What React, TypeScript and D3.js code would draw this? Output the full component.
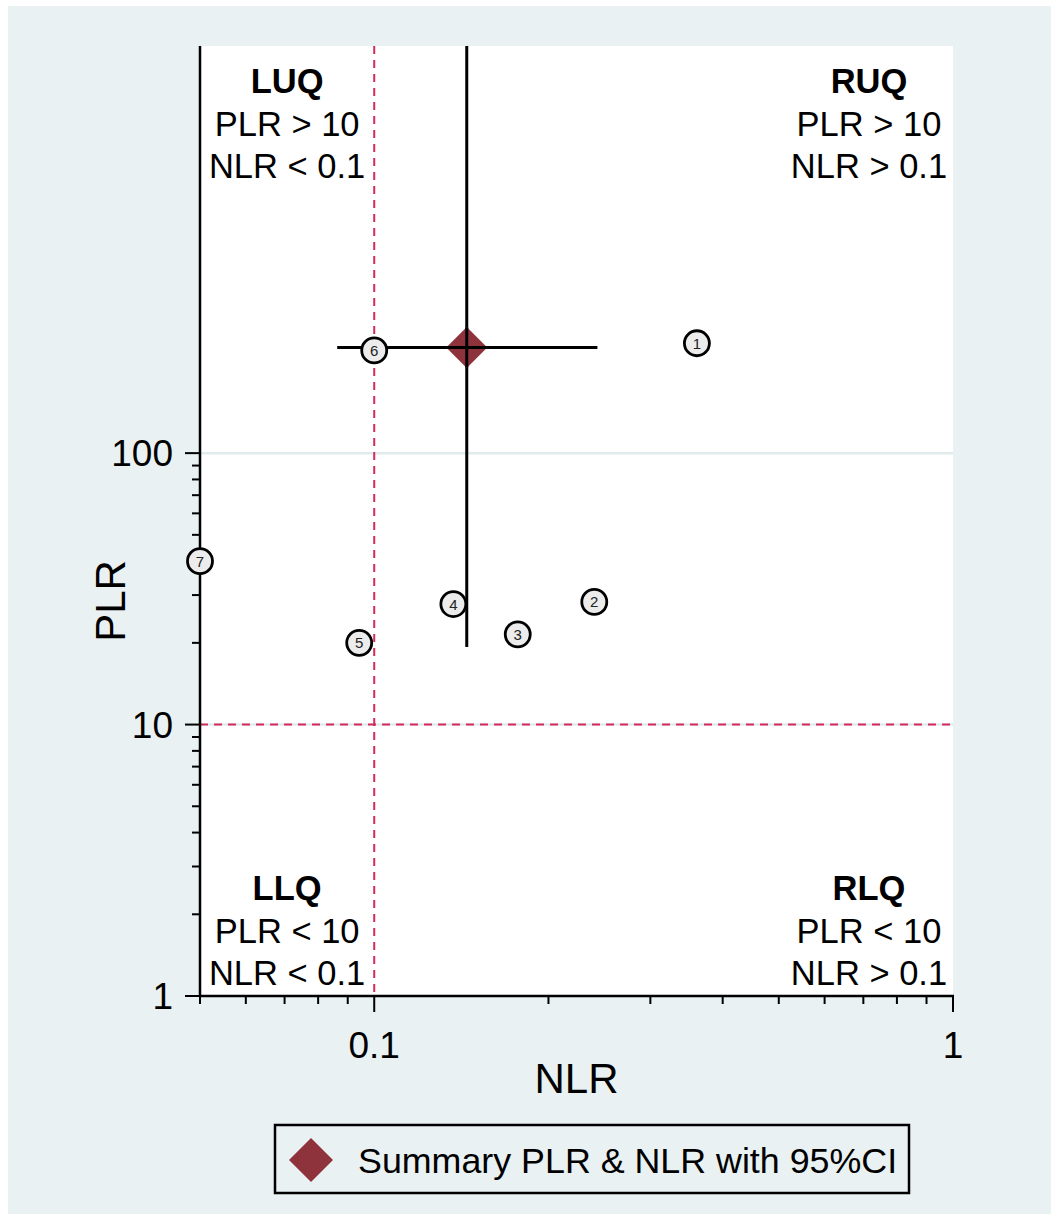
import React from "react";
import * as d3 from "d3";

const studyIds = ["1", "2", "3", "4", "5", "6", "7"];
const studyNLR = [0.361, 0.24, 0.177, 0.137, 0.0942, 0.1, 0.05];
const studyPLR = [254, 28.3, 21.5, 27.8, 20.0, 239, 40.0];

const summaryNLR = 0.1445;
const summaryPLR = 245;
const summaryNLRci = [0.0863, 0.243];
const summaryPLRci = [19.3, 5000];

const yMajorTicks = [1, 10, 100];
const yMinorTicks = [2, 3, 4, 5, 6, 7, 8, 9, 20, 30, 40, 50, 60, 70, 80, 90];
const xMajorTicks = [0.1, 1];
const xMinorTicks = [0.05, 0.06, 0.07, 0.08, 0.09, 0.2, 0.3, 0.4, 0.5, 0.6, 0.7, 0.8, 0.9];

const quadrantLabels = [
  { title: "LUQ", lines: ["PLR > 10", "NLR < 0.1"], pos: "ul" },
  { title: "RUQ", lines: ["PLR > 10", "NLR > 0.1"], pos: "ur" },
  { title: "LLQ", lines: ["PLR < 10", "NLR < 0.1"], pos: "ll" },
  { title: "RLQ", lines: ["PLR < 10", "NLR > 0.1"], pos: "lr" },
];

const legendLabel = "Summary PLR & NLR with 95%CI";

const BG = "#e9f1f3";
const GRID = "#e1ebee";
const RED = "#d42b5b";
const MAROON = "#8e333b";
const FONT = "'Liberation Sans', Arial, Helvetica, sans-serif";

export default function App() {
  const L = 200, R = 953, T = 46, B = 996;
  const x = d3.scaleLog().domain([0.05, 1]).range([L, R]);
  const y = d3.scaleLog().domain([1, 3162]).range([B, T]);

  const dia = (cx: number, cy: number, h: number) =>
    `M${cx},${cy - h}L${cx + h},${cy}L${cx},${cy + h}L${cx - h},${cy}Z`;

  const leftCx = (L + x(0.1)) / 2;
  const rightCx = 869;

  return (
    <svg
      width={1051}
      height={1214}
      style={{ position: "absolute", left: 0, top: 0, fontFamily: FONT }}
    >
      <defs>
        <clipPath id="plotclip">
          <rect x={L} y={T} width={R - L} height={B - T} />
        </clipPath>
      </defs>
      <rect x={0} y={0} width={1051} height={1214} fill="#ffffff" />
      <rect x={8} y={6} width={1043} height={1208} fill={BG} />
      <rect x={L} y={T} width={R - L} height={B - T} fill="#ffffff" />

      {/* gridlines */}
      {[10, 100].map((v) => (
        <line key={v} x1={L} x2={R} y1={y(v)} y2={y(v)} stroke={GRID} strokeWidth={2.5} />
      ))}

      {/* reference dashed lines */}
      <line x1={x(0.1)} x2={x(0.1)} y1={T} y2={B} stroke={RED} strokeWidth={2} strokeDasharray="8,6" />
      <line x1={L} x2={R} y1={y(10)} y2={y(10)} stroke={RED} strokeWidth={2} strokeDasharray="8,6" />

      {/* quadrant labels */}
      {quadrantLabels.map((q) => {
        const cx = q.pos[1] === "l" ? leftCx : rightCx;
        const base = q.pos[0] === "u" ? 93 : 900;
        return (
          <g key={q.title} textAnchor="middle" fontSize={34.5} fill="#000">
            <text x={cx} y={base} fontWeight="bold">{q.title}</text>
            {q.lines.map((ln, i) => (
              <text key={i} x={cx} y={base + 42.5 * (i + 1)}>{ln}</text>
            ))}
          </g>
        );
      })}

      {/* CI lines */}
      <g clipPath="url(#plotclip)" stroke="#000" strokeWidth={3}>
        <line x1={x(summaryNLRci[0])} x2={x(summaryNLRci[1])} y1={y(summaryPLR)} y2={y(summaryPLR)} />
        <line x1={x(summaryNLR)} x2={x(summaryNLR)} y1={y(summaryPLRci[0])} y2={y(summaryPLRci[1])} />
      </g>

      {/* summary diamond */}
      <path d={dia(x(summaryNLR), y(summaryPLR), 20.5)} fill={MAROON} />
      <g stroke="#000" strokeWidth={3}>
        <line x1={x(summaryNLR) - 20} x2={x(summaryNLR) + 20} y1={y(summaryPLR)} y2={y(summaryPLR)} />
        <line x1={x(summaryNLR)} x2={x(summaryNLR)} y1={y(summaryPLR) - 20} y2={y(summaryPLR) + 20} />
      </g>

      {/* axes */}
      <line x1={L} x2={L} y1={T} y2={B + 1} stroke="#000" strokeWidth={2.5} />
      <line x1={L - 1} x2={R + 1} y1={B} y2={B} stroke="#000" strokeWidth={2.5} />
      {yMajorTicks.map((v) => (
        <g key={v}>
          <line x1={L - 15} x2={L} y1={y(v)} y2={y(v)} stroke="#000" strokeWidth={2} />
          <text x={L - 27} y={y(v) + 13} textAnchor="end" fontSize={37}>{v}</text>
        </g>
      ))}
      {yMinorTicks.map((v) => (
        <line key={v} x1={L - 8} x2={L} y1={y(v)} y2={y(v)} stroke="#000" strokeWidth={2} />
      ))}
      {xMajorTicks.map((v) => (
        <g key={v}>
          <line x1={x(v)} x2={x(v)} y1={B} y2={B + 16} stroke="#000" strokeWidth={2} />
          <text x={x(v)} y={B + 62} textAnchor="middle" fontSize={37}>{v}</text>
        </g>
      ))}
      {xMinorTicks.map((v) => (
        <line key={v} x1={x(v)} x2={x(v)} y1={B} y2={B + 8} stroke="#000" strokeWidth={2} />
      ))}

      {/* axis titles */}
      <text x={(L + R) / 2} y={1093} textAnchor="middle" fontSize={42}>NLR</text>
      <text
        transform={`translate(125,601) rotate(-90)`}
        textAnchor="middle"
        fontSize={42}
      >
        PLR
      </text>

      {/* study points */}
      {studyIds.map((id, i) => (
        <g key={id}>
          <circle cx={x(studyNLR[i])} cy={y(studyPLR[i])} r={12.5} fill="#ececec" stroke="#000" strokeWidth={2.8} />
          <text
            x={x(studyNLR[i])}
            y={y(studyPLR[i]) + 5.5}
            textAnchor="middle"
            fontSize={15}
            fill="#222"
          >
            {id}
          </text>
        </g>
      ))}

      {/* legend */}
      <rect x={275} y={1125} width={634} height={68} fill={BG} stroke="#000" strokeWidth={2.5} />
      <path d={dia(311, 1160, 22)} fill={MAROON} />
      <text x={358} y={1173} fontSize={35.8}>{legendLabel}</text>
    </svg>
  );
}
